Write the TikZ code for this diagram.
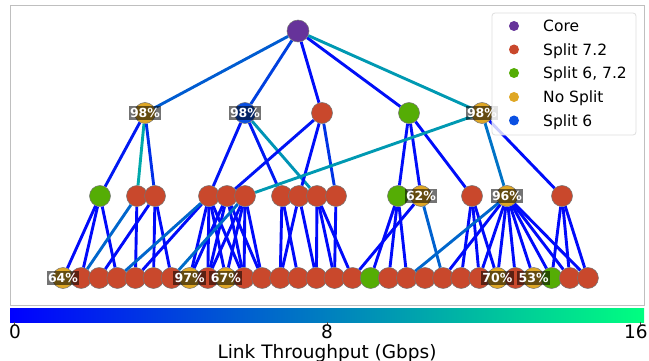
\documentclass[tikz,border=0pt]{standalone}
\usepackage{fontspec}
\setmainfont{DejaVu Sans}
\pgfdeclarelayer{edges}
\pgfsetlayers{edges,main}

% winter colour map ends (0 and 16 Gbps)
\definecolor{wlo}{rgb}{0,0,1}
\definecolor{whi}{rgb}{0,1,0.5}
% node classes
\definecolor{corec}{HTML}{66339A}
\definecolor{redc}{HTML}{C9482C}
\definecolor{greenc}{HTML}{55AD05}
\definecolor{yelc}{HTML}{DFA725}
\definecolor{bluec}{HTML}{0A50E2}

\tikzset{
  vtx/.style={circle, minimum size=21pt, inner sep=0pt, draw=black!55, line width=0.5pt},
  lk/.style={draw=whi!#1!wlo, line width=2.9pt},
  lk/.default=4,
  pct/.style={fill=black, fill opacity=0.55, text opacity=1, text=white,
    font=\fontsize{12.5}{14}\selectfont\bfseries, inner xsep=1.5pt, inner ysep=2.5pt},
  legtxt/.style={anchor=base west, inner sep=0pt, font=\fontsize{15.5}{18}\selectfont},
  legdot/.style={circle, minimum size=10pt, inner sep=0pt},
  tick/.style={font=\fontsize{18.5}{20}\selectfont, inner sep=0pt},
}

\begin{document}
\begin{tikzpicture}[x=1pt, y=-1pt]
\useasboundingbox (0,0) rectangle (649,361);

% plot frame
\draw[black!25, line width=0.8pt] (10,5) rectangle (644,305);

% core
\node[vtx, fill=corec, minimum size=22pt] (core) at (298,31) {};

% aggregation level
\node[vtx, fill=yelc]   (a1) at (145,113) {};
\node[vtx, fill=bluec]  (a2) at (245,113) {};
\node[vtx, fill=redc]   (a3) at (322,113) {};
\node[vtx, fill=greenc] (a4) at (409,113) {};
\node[vtx, fill=yelc]   (a5) at (482,113) {};

% middle level
\foreach \n/\x/\c in {b1/100/greenc, b2/137/redc, b3/155/redc, b4/209/redc,
    b5/227/redc, b6/245/redc, b7/282/redc, b8/299/redc, b9/317/redc,
    b10/336/redc, b11/398/greenc, b12/421/yelc, b13/472/redc, b14/507/yelc,
    b15/562/redc}
  \node[vtx, fill=\c] (\n) at (\x,196) {};

% cell sites
\foreach \i/\c in {0/yelc, 1/redc, 2/redc, 3/redc, 4/redc, 5/redc, 6/redc,
    7/yelc, 8/redc, 9/yelc, 10/redc, 11/redc, 12/redc, 13/redc, 14/redc,
    15/redc, 16/redc, 17/greenc, 18/redc, 19/redc, 20/redc, 21/redc,
    22/redc, 23/redc, 24/yelc, 25/redc, 26/yelc, 27/greenc, 28/redc, 29/redc}
  \node[vtx, fill=\c] (c\i) at ({63+18.1*\i},278) {};

% links, coloured by throughput
\begin{pgfonlayer}{edges}
  \draw[lk=36] (core) -- (a1);
  \draw[lk=25] (core) -- (a2);
  \draw[lk=5]  (core) -- (a3);
  \draw[lk=6]  (core) -- (a4);
  \draw[lk=60] (core) -- (a5);

  \draw[lk=10] (a1) -- (b1);
  \draw[lk=66] (a1) -- (b2);
  \draw[lk=18] (a1) -- (b3);
  \draw[lk=8]  (a2) -- (b4);
  \draw[lk=10] (a2) -- (b7);
  \draw[lk=58] (a2) -- (b9);
  \draw[lk=8]  (a3) -- (b5);
  \draw[lk=5]  (a3) -- (b8);
  \draw[lk=20] (a3) -- (b10);
  \draw[lk=5]  (a4) -- (b11);
  \draw[lk=5]  (a4) -- (b12);
  \draw[lk=5]  (a4) -- (b13);
  \draw[lk=60] (a5) -- (b6);
  \draw[lk=45] (a5) -- (b14);
  \draw[lk=5]  (a5) -- (b15);

  \foreach \a/\b in {b1/c0, b1/c1, b1/c3, b2/c4, b3/c2, b3/c5, b3/c6,
      b4/c4, b4/c7, b4/c8, b4/c9, b4/c10, b5/c7, b5/c8, b5/c10, b5/c11,
      b6/c8, b6/c9, b6/c10, b6/c11, b7/c12, b7/c13, b8/c12, b8/c14,
      b9/c14, b9/c15, b9/c16, b10/c15, b11/c17, b11/c18, b11/c19,
      b12/c16, b13/c22, b13/c23, b13/c24, b14/c21, b14/c23, b14/c24,
      b14/c25, b14/c26, b14/c27, b14/c28, b14/c29, b15/c27, b15/c28,
      b15/c29}
    \draw[lk] (\a) -- (\b);
  \draw[lk=40] (b2) -- (c1);
  \draw[lk=40] (b4) -- (c3);
  \draw[lk=42] (b6) -- (c6);
  \draw[lk=38] (b12) -- (c21);
  \draw[lk=40] (b14) -- (c19);
\end{pgfonlayer}

% utilisation labels
\node[pct] (p1) at (a1) {98\%};
\node[pct] (p2) at (a2) {98\%};
\node[pct] (p3) at (a5) {98\%};
\node[pct] (p4) at (b12) {62\%};
\node[pct] (p5) at (b14) {96\%};
\node[pct] (p6) at (c0) {64\%};
\node[pct] (p7) at (c7) {97\%};
\node[pct] (p8) at (c9) {67\%};
\node[pct] (p9) at (c24) {70\%};
\node[pct] (p10) at (c26) {53\%};

% legend
\node[draw=black!13, fill=white, fill opacity=0.8, rounded corners=3pt,
      line width=0.8pt, minimum width=144pt, minimum height=122pt,
      inner sep=0pt] (leg) at (564,74) {};
\foreach \k/\y/\c/\t in {1/26/corec/Core, 2/49.5/redc/Split 7.2,
    3/73/greenc/{Split 6, 7.2}, 4/97/yelc/No Split, 5/120.5/bluec/Split 6} {
  \node[legdot, fill=\c] (m\k) at (514,\y) {};
  \node[legtxt] (t\k) at (543,\y+5.7) {\t};
}

% colour bar
\shade[left color=wlo, right color=whi] (10,308) rectangle (644,322);
\foreach \x in {14,327,640}
  \draw[black!70, line width=0.6pt] (\x,322) -- (\x,325);
\node[tick, anchor=base] (k0) at (15,338) {0};
\node[tick, anchor=base] (k8) at (327,338) {8};
\node[tick, anchor=base] (k16) at (636,338) {16};
\node[tick, anchor=base] (cbl) at (327,358) {Link Throughput (Gbps)};
\end{tikzpicture}
\end{document}
